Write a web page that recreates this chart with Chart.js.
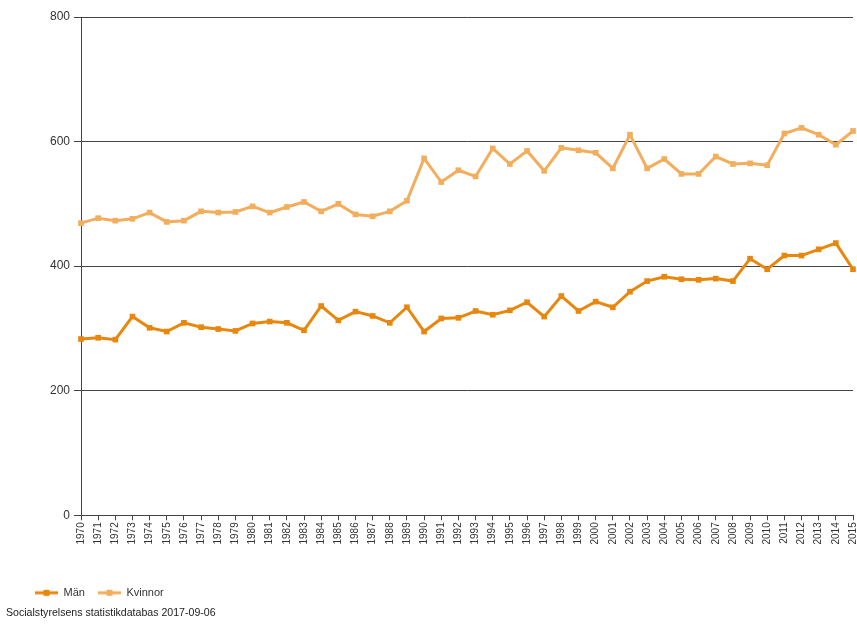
<!DOCTYPE html>
<html>
<head>
<meta charset="utf-8">
<script src="https://cdn.jsdelivr.net/npm/chart.js@4.4.1/dist/chart.umd.min.js"></script>
<style>
  html, body { margin: 0; padding: 0; background: #fff; }
  #wrap { width: 857px; height: 626px; position: relative; }
</style>
</head>
<body>
<div id="wrap"><canvas id="c" width="857" height="626"></canvas></div>
<script>
const years = ["1970","1971","1972","1973","1974","1975","1976","1977","1978","1979",
  "1980","1981","1982","1983","1984","1985","1986","1987","1988","1989",
  "1990","1991","1992","1993","1994","1995","1996","1997","1998","1999",
  "2000","2001","2002","2003","2004","2005","2006","2007","2008","2009",
  "2010","2011","2012","2013","2014","2015"];

const manValues = [283, 285, 282, 319, 301, 295, 309, 302, 299, 296,
  308, 311, 309, 297, 336, 313, 327, 320, 309, 334,
  295, 316, 317, 328, 322, 329, 342, 319, 352, 328,
  343, 334, 359, 376, 383, 379, 378, 380, 376, 412,
  395, 417, 417, 427, 437, 395];

const kvinnorValues = [469, 477, 473, 476, 486, 471, 473, 488, 486, 487,
  496, 486, 495, 503, 488, 500, 483, 480, 488, 505,
  573, 535, 554, 544, 589, 564, 585, 553, 590, 586,
  582, 557, 611, 557, 572, 548, 548, 576, 564, 565,
  562, 613, 622, 611, 595, 617];

const yTicks = [0, 200, 400, 600, 800];
const seriesNames = ["Män", "Kvinnor"];
const footerText = "Socialstyrelsens statistikdatabas 2017-09-06";

const manColor = "#E8870E";
const kvColor = "#F2AE5C";

function legendIcon(color) {
  const cv = document.createElement("canvas");
  cv.width = 23; cv.height = 8;
  const g = cv.getContext("2d");
  g.strokeStyle = color; g.lineWidth = 3;
  g.beginPath(); g.moveTo(0, 4); g.lineTo(23, 4); g.stroke();
  g.fillStyle = color; g.fillRect(8.5, 1, 6, 6);
  return cv;
}
const icons = [legendIcon(manColor), legendIcon(kvColor)];

const shiftBoxes = {
  id: "shiftBoxes",
  beforeDraw(chart) {
    if (chart._shiftedBoxes) return;
    chart._shiftedBoxes = true;
    if (chart.legend) { chart.legend.left += 22; chart.legend.top += 2; chart.legend.bottom += 2; }
    chart.boxes.forEach(b => {
      if (b.options && b.options.text === footerText) { b.left += 6; b.right += 6; }
    });
  }
};

const ctx = document.getElementById("c").getContext("2d");
new Chart(ctx, {
  type: "line",
  plugins: [shiftBoxes],
  data: {
    labels: years,
    datasets: [
      { label: seriesNames[0], data: manValues, borderColor: manColor, backgroundColor: manColor,
        borderWidth: 3, pointStyle: "rect", pointRadius: 4, pointBorderWidth: 0, tension: 0, clip: false },
      { label: seriesNames[1], data: kvinnorValues, borderColor: kvColor, backgroundColor: kvColor,
        borderWidth: 3, pointStyle: "rect", pointRadius: 4, pointBorderWidth: 0, tension: 0, clip: false }
    ]
  },
  options: {
    responsive: false,
    animation: false,
    devicePixelRatio: 1,
    layout: { padding: { left: 0, right: 3, top: 17, bottom: 7 } },
    scales: {
      x: {
        offset: false,
        grid: { display: true, drawOnChartArea: false, drawTicks: true, tickLength: 5, color: "#444", lineWidth: 1 },
        border: { display: true, color: "#444", width: 1 },
        ticks: { autoSkip: false, maxRotation: 90, minRotation: 90, padding: 2,
          font: { family: "'Liberation Sans', Arial, sans-serif", size: 10 }, color: "#333" },
        afterFit(s) { s.height = 57; s.paddingLeft = 0; s.paddingRight = 0; }
      },
      y: {
        min: 0, max: 800,
        afterBuildTicks(s) { s.ticks = yTicks.map(v => ({ value: v })); },
        grid: { color: "#444", lineWidth: 1, tickLength: 7, drawTicks: true },
        border: { display: true, color: "#444", width: 1 },
        ticks: { padding: 4, font: { family: "'Liberation Sans', Arial, sans-serif", size: 12 }, color: "#333" },
        afterFit(s) { s.width = 81; s.paddingTop = 0; s.paddingBottom = 0; }
      }
    },
    plugins: {
      legend: {
        position: "bottom", align: "start",
        labels: {
          usePointStyle: true, pointStyleWidth: 23, boxWidth: 23, boxHeight: 8, padding: 13,
          font: { family: "'Liberation Sans', Arial, sans-serif", size: 11 }, color: "#333",
          generateLabels(chart) {
            return chart.data.datasets.map((d, i) => ({
              text: d.label, pointStyle: icons[i], fillStyle: d.borderColor,
              strokeStyle: d.borderColor, lineWidth: 0, hidden: false, datasetIndex: i, fontColor: "#333"
            }));
          }
        }
      },
      subtitle: {
        display: true, text: footerText, position: "bottom", align: "start",
        font: { family: "'Liberation Sans', Arial, sans-serif", size: 10.6 }, color: "#222",
        padding: { top: 0, bottom: 0 }
      },
      tooltip: { enabled: false }
    }
  }
});
</script>
</body>
</html>
